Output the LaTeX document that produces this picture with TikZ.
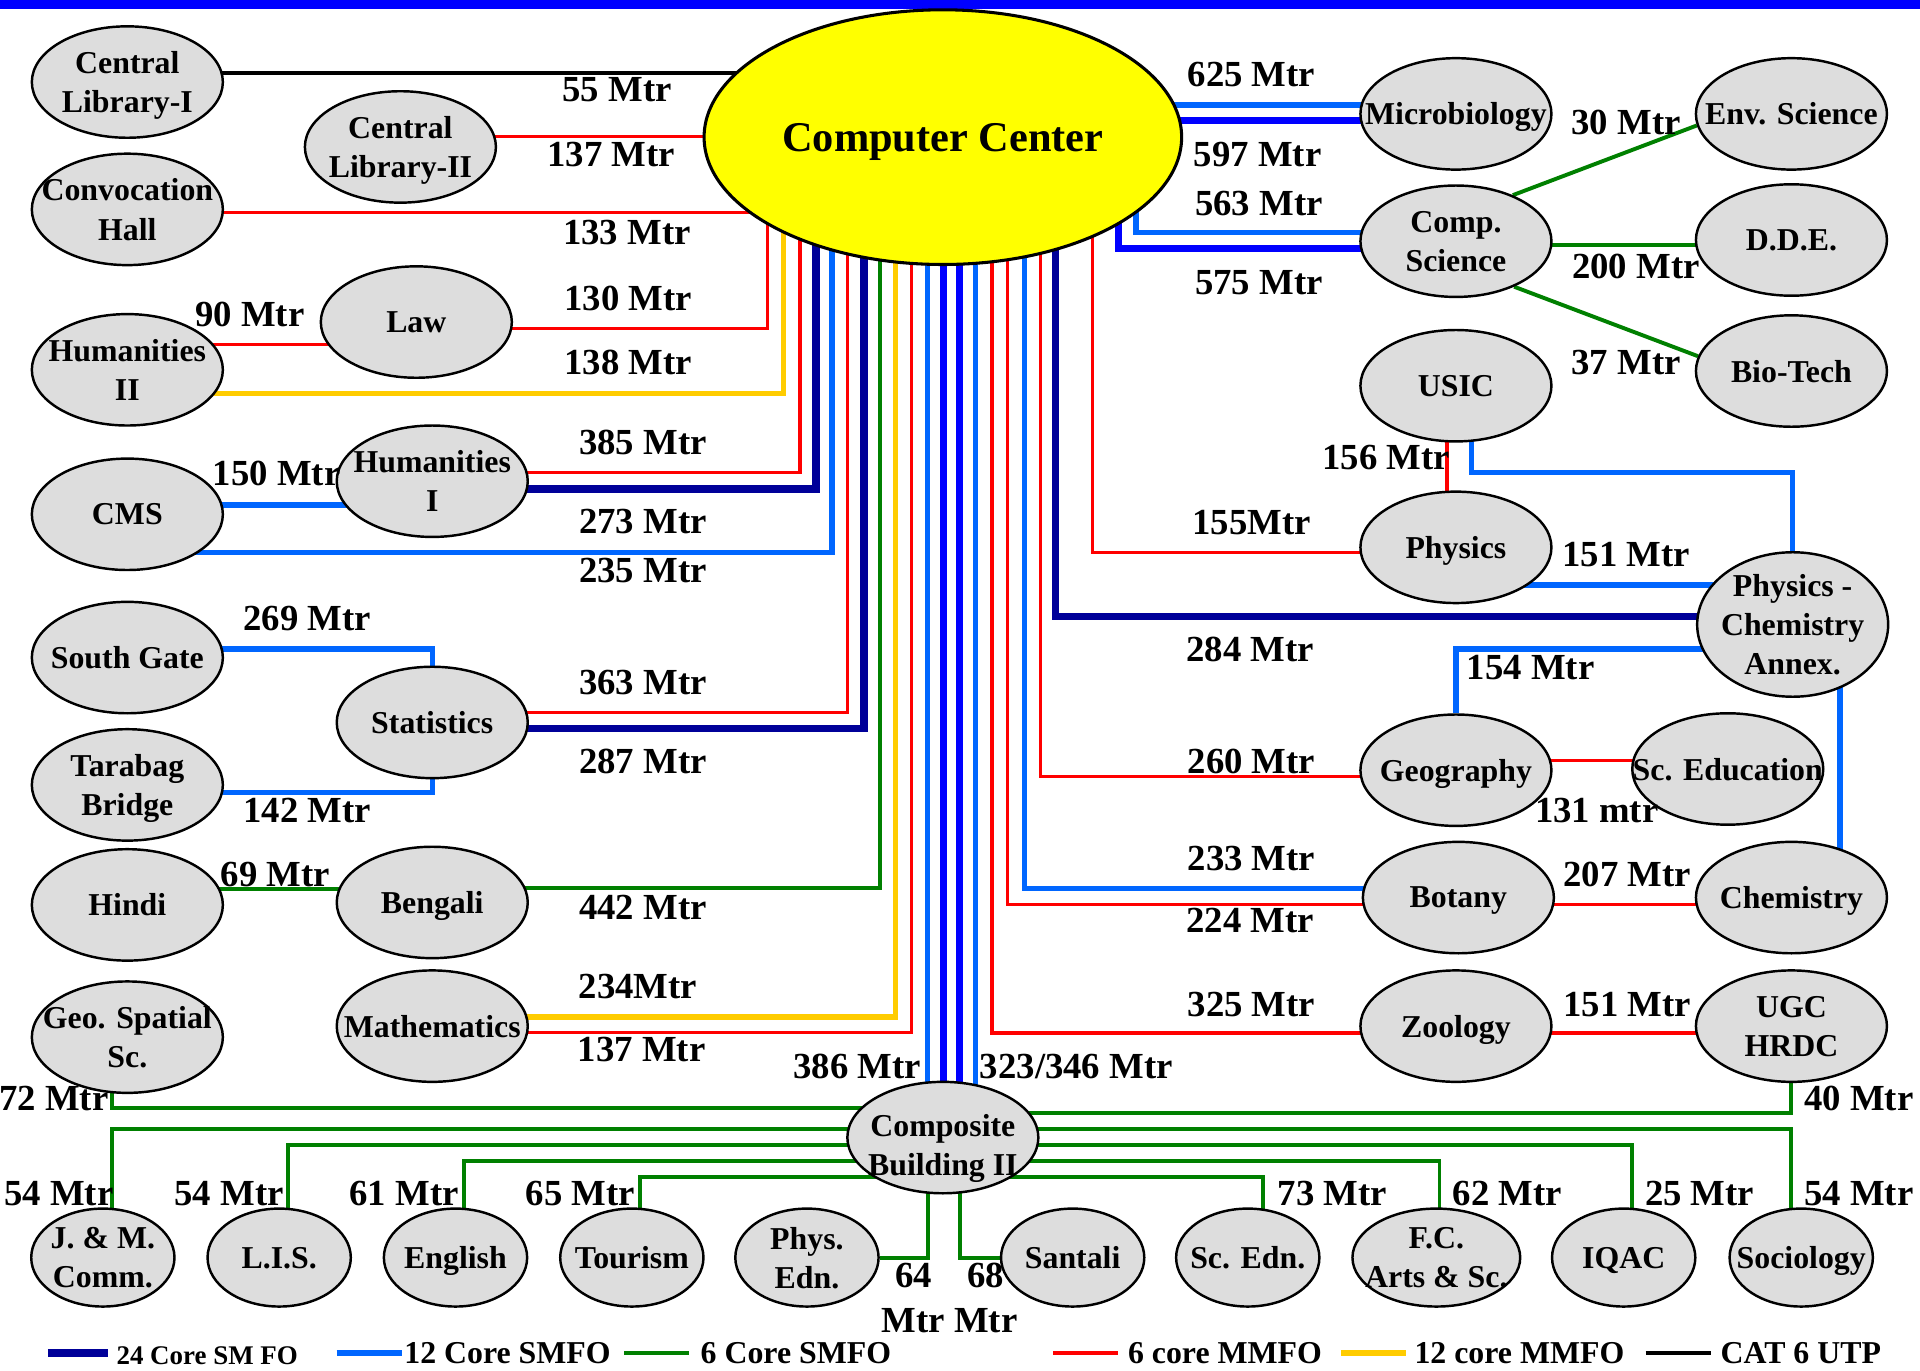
\documentclass[tikz,border=0pt]{standalone}
\usepackage{fontspec}
\setmainfont{Liberation Serif}
\usetikzlibrary{shapes.geometric}
\definecolor{navyfo}{HTML}{000099}
\definecolor{lightfo}{HTML}{0066FF}
\definecolor{bluefo}{HTML}{0000FF}
\definecolor{greenfo}{HTML}{008000}
\definecolor{redfo}{HTML}{FF0000}
\definecolor{amberfo}{HTML}{FFCC00}
\definecolor{sitegray}{HTML}{DDDDDD}
\definecolor{ccyellow}{HTML}{FFFF00}
\pgfdeclarelayer{bg}
\pgfsetlayers{bg,main}

\begin{document}
\begin{tikzpicture}[x=1pt, y=-1pt, every node/.style={font=\bfseries}]
    \tikzset{site/.style={ellipse,draw=black,line width=2pt,fill=sitegray,align=center,inner sep=-25pt,text depth=0pt,minimum width=156,minimum height=91,font=\bfseries\fontsize{26}{32}\selectfont}}
    \tikzset{smallsite/.style={site,minimum width=117,minimum height=80}}
    \tikzset{dist/.style={font=\bfseries\fontsize{30}{36}\selectfont,inner sep=0pt,align=center}}
    \tikzset{legtext/.style={font=\bfseries\fontsize{26}{30}\selectfont,inner sep=0pt,anchor=west}}
    \tikzset{smfo24/.style={draw=navyfo,line width=6pt},smfo12/.style={draw=lightfo,line width=4.4pt},smfoblue/.style={draw=bluefo,line width=5.6pt},smfo6/.style={draw=greenfo,line width=3.2pt},mmfo6/.style={draw=redfo,line width=2.8pt},mmfo12/.style={draw=amberfo,line width=4.4pt},utp/.style={draw=black,line width=3.5pt}}
    \useasboundingbox (0,0) rectangle (1568,1119);
    \fill[bluefo] (0,0) rectangle (1568,7.5);
    % hub
    \node[site,fill=ccyellow,line width=2.5pt,minimum width=390,minimum height=208,font=\bfseries\fontsize{34.6}{40}\selectfont] (cc) at (770,112) {Computer Center};
    \node[site,text height=62pt] (comp) at (770,929) {Composite\\Building II};
    % left columns
    \node[site] (cl1) at (104,67) {Central\\Library-I};
    \node[site] (conv) at (104,171) {Convocation\\Hall};
    \node[site] (hum2) at (104,302) {Humanities\\II};
    \node[site] (cms) at (104,420) {CMS};
    \node[site] (sgate) at (104,537) {South Gate};
    \node[site] (tarabag) at (104,641) {Tarabag\\Bridge};
    \node[site] (hindi) at (104,739) {Hindi};
    \node[site] (geosp) at (104,847) {Geo. Spatial\\Sc.};
    \node[site] (cl2) at (327,120) {Central\\Library-II};
    \node[site] (law) at (340,263) {Law};
    \node[site] (hum1) at (353,393) {Humanities\\I};
    \node[site] (stat) at (353,590) {Statistics};
    \node[site] (bengali) at (353,737) {Bengali};
    \node[site] (maths) at (353,838) {Mathematics};
    % right columns
    \node[site] (micro) at (1189,93) {Microbiology};
    \node[site] (compsci) at (1189,197) {Comp.\\Science};
    \node[site] (usic) at (1189,315) {USIC};
    \node[site] (physics) at (1189,447) {Physics};
    \node[site] (geog) at (1189,629) {Geography};
    \node[site] (botany) at (1191,733) {Botany};
    \node[site] (zoology) at (1189,838) {Zoology};
    \node[site] (envsci) at (1463,93) {Env. Science};
    \node[site] (dde) at (1463,196) {D.D.E.};
    \node[site] (biotech) at (1463,303) {Bio-Tech};
    \node[site,minimum height=118] (pca) at (1464,510) {Physics -\\Chemistry\\Annex.};
    \node[site] (scedu) at (1411,628) {Sc. Education};
    \node[site] (chem) at (1463,733) {Chemistry};
    \node[site] (ugc) at (1463,838) {UGC\\HRDC};
    % bottom row
    \node[smallsite] (jmc) at (84,1027) {J. \& M.\\Comm.};
    \node[smallsite] (lis) at (228,1027) {L.I.S.};
    \node[smallsite] (english) at (372,1027) {English};
    \node[smallsite] (tourism) at (516,1027) {Tourism};
    \node[smallsite] (physedn) at (659,1027) {Phys.\\Edn.};
    \node[smallsite] (santali) at (876,1027) {Santali};
    \node[smallsite] (scedn) at (1019,1027) {Sc. Edn.};
    \node[smallsite,minimum width=137] (fcas) at (1173,1027) {F.C.\\Arts \& Sc.};
    \node[smallsite] (iqac) at (1326,1027) {IQAC};
    \node[smallsite] (sociology) at (1471,1027) {Sociology};

    \begin{pgfonlayer}{bg}
    % left side to hub
    \draw[utp] (cl1 |- 0,59.4) -- (cc |- 0,59.4);
    \draw[mmfo6] (cl2 |- 0,111.6) -- (cc |- 0,111.6);
    \draw[mmfo6] (conv |- 0,173.7) -- (cc |- 0,173.7);
    \draw[mmfo6] (law |- 0,268.4) -| (627,0 |- cc);
    \draw[mmfo12] (hum2 |- 0,321.2) -| (640,0 |- cc);
    \draw[mmfo6] (hum2 |- 0,281.2) -- (law |- 0,281.2);
    \draw[mmfo6] (hum1 |- 0,386) -| (653.3,0 |- cc);
    \draw[smfo24] (hum1 |- 0,399.4) -| (666.4,0 |- cc);
    \draw[smfo12] (cms |- 0,412.4) -- (hum1 |- 0,412.4);
    \draw[smfo12] (cms |- 0,451.3) -| (679.5,0 |- cc);
    \draw[smfo12] (sgate |- 0,530) -| (stat);
    \draw[smfo12] (tarabag |- 0,647.3) -| (stat);
    \draw[mmfo6] (stat |- 0,582) -| (692.3,0 |- cc);
    \draw[smfo24] (stat |- 0,595) -| (705.6,0 |- cc);
    \draw[smfo6] (hindi |- 0,726.3) -- (bengali |- 0,726.3);
    \draw[smfo6] (bengali |- 0,725.5) -| (718.7,0 |- cc);
    \draw[mmfo12] (maths |- 0,830.5) -| (731.5,0 |- cc);
    \draw[mmfo6] (maths |- 0,843.4) -| (744.5,0 |- cc);
    % composite building to hub
    \draw[smfo12] (757.6,0 |- comp) -- (757.6,0 |- cc);
    \draw[smfoblue] (770.7,0 |- comp) -- (770.7,0 |- cc);
    \draw[smfoblue] (783.7,0 |- comp) -- (783.7,0 |- cc);
    \draw[smfo12] (796.8,0 |- comp) -- (796.8,0 |- cc);
    % right side
    \draw[smfo12] (cc |- 0,85.7) -- (micro |- 0,85.7);
    \draw[smfoblue] (cc |- 0,98.6) -- (micro |- 0,98.6);
    \draw[smfo12] (927.7,0 |- cc) |- (compsci |- 0,190);
    \draw[smfoblue] (913.3,0 |- cc) |- (compsci |- 0,202.8);
    \draw[smfo6] (compsci.39) -- (envsci.187);
    \draw[smfo6] (compsci |- 0,200) -- (dde |- 0,200);
    \draw[smfo6] (compsci.-38) -- (biotech.171);
    \draw[mmfo6] (1181.6,0 |- usic) -- (1181.6,0 |- physics);
    \draw[smfo12] (1201.5,0 |- usic) |- (pca |- 0,386) -- (pca);
    \draw[smfo12] (physics |- 0,477.7) -- (pca |- 0,477.7);
    \draw[mmfo6] (892.4,0 |- cc) |- (physics |- 0,451.3);
    \draw[smfo24] (862.2,0 |- cc) |- (pca |- 0,503.6);
    \draw[smfo12] (pca |- 0,530) -| (geog);
    \draw[smfo12] (1502.6,0 |- pca) -- (1502.6,0 |- chem);
    \draw[mmfo6] (849.5,0 |- cc) |- (geog |- 0,634.3);
    \draw[mmfo6] (geog |- 0,621.2) -- (scedu |- 0,621.2);
    \draw[smfo12] (836.5,0 |- cc) |- (botany |- 0,725.5);
    \draw[mmfo6] (823,0 |- cc) |- (botany |- 0,738.5);
    \draw[mmfo6] (botany |- 0,738.5) -- (chem |- 0,738.5);
    \draw[mmfo6] (810,0 |- cc) |- (zoology |- 0,843.6);
    \draw[mmfo6] (zoology |- 0,843.6) -- (ugc |- 0,843.6);
    % composite building branches
    \draw[smfo6] (comp |- 0,904.6) -| (91.5,0 |- geosp);
    \draw[smfo6] (comp |- 0,921.7) -| (91.5,0 |- jmc);
    \draw[smfo6] (comp |- 0,935) -| (235,0 |- lis);
    \draw[smfo6] (comp |- 0,948) -| (378.6,0 |- english);
    \draw[smfo6] (comp |- 0,961) -| (522.6,0 |- tourism);
    \draw[smfo6] (758,0 |- comp) |- (physedn);
    \draw[smfo6] (784,0 |- comp) |- (santali);
    \draw[smfo6] (comp |- 0,908.7) -| (ugc);
    \draw[smfo6] (comp |- 0,921.7) -| (1463,0 |- sociology);
    \draw[smfo6] (comp |- 0,935) -| (1333,0 |- iqac);
    \draw[smfo6] (comp |- 0,948) -| (1175.6,0 |- fcas);
    \draw[smfo6] (comp |- 0,961) -| (1031.6,0 |- scedn);
    \end{pgfonlayer}

    % distances
    \node[dist] (d1) at (504,73) {55 Mtr};
    \node[dist] (d2) at (499,126) {137 Mtr};
    \node[dist] (d3) at (512,190) {133 Mtr};
    \node[dist] (d4) at (513,244) {130 Mtr};
    \node[dist] (d5) at (513,296) {138 Mtr};
    \node[dist] (d6) at (204,257) {90 Mtr};
    \node[dist] (d7) at (525,361) {385 Mtr};
    \node[dist] (d8) at (226,387) {150 Mtr};
    \node[dist] (d9) at (525,426) {273 Mtr};
    \node[dist] (d10) at (525,466) {235 Mtr};
    \node[dist] (d11) at (251,505) {269 Mtr};
    \node[dist] (d12) at (525,557) {363 Mtr};
    \node[dist] (d13) at (525,622) {287 Mtr};
    \node[dist] (d14) at (251,662) {142 Mtr};
    \node[dist] (d15) at (225,714) {69 Mtr};
    \node[dist] (d16) at (525,741) {442 Mtr};
    \node[dist] (d17) at (521,806) {234Mtr};
    \node[dist] (d18) at (524,857) {137 Mtr};
    \node[dist] (d19) at (700,871) {386 Mtr};
    \node[dist] (d20) at (879,871) {323/346 Mtr};
    \node[dist] (d21) at (44,897) {72 Mtr};
    \node[dist] (d22) at (48,975) {54 Mtr};
    \node[dist] (d23) at (187,975) {54 Mtr};
    \node[dist] (d24) at (330,975) {61 Mtr};
    \node[dist] (d25) at (474,975) {65 Mtr};
    \node[dist] (d26) at (746,1060) {64\\Mtr};
    \node[dist] (d27) at (805,1060) {68\\Mtr};
    \node[dist] (d28) at (1088,975) {73 Mtr};
    \node[dist] (d29) at (1231,975) {62 Mtr};
    \node[dist] (d30) at (1388,975) {25 Mtr};
    \node[dist] (d31) at (1518,975) {54 Mtr};
    \node[dist] (d32) at (1518,897) {40 Mtr};
    \node[dist] (d33) at (1022,61) {625 Mtr};
    \node[dist] (d34) at (1027,126) {597 Mtr};
    \node[dist] (d35) at (1028,166) {563 Mtr};
    \node[dist] (d36) at (1028,231) {575 Mtr};
    \node[dist] (d37) at (1328,100) {30 Mtr};
    \node[dist] (d38) at (1336,218) {200 Mtr};
    \node[dist] (d39) at (1328,296) {37 Mtr};
    \node[dist] (d40) at (1132,374) {156 Mtr};
    \node[dist] (d41) at (1022,427) {155Mtr};
    \node[dist] (d42) at (1328,453) {151 Mtr};
    \node[dist] (d43) at (1021,530) {284 Mtr};
    \node[dist] (d44) at (1250,545) {154 Mtr};
    \node[dist] (d45) at (1022,622) {260 Mtr};
    \node[dist] (d46) at (1304,662) {131 mtr};
    \node[dist] (d47) at (1022,701) {233 Mtr};
    \node[dist] (d48) at (1329,714) {207 Mtr};
    \node[dist] (d49) at (1021,752) {224 Mtr};
    \node[dist] (d50) at (1022,820) {325 Mtr};
    \node[dist] (d51) at (1329,820) {151 Mtr};

    % legend
    \node[legtext,font=\bfseries\fontsize{22}{26}\selectfont,anchor=base west] (t1) at (95,1114) {24 Core SM FO};
    \node[legtext] (t2) at (330,1105) {12 Core SMFO};
    \node[legtext] (t3) at (572,1105) {6 Core SMFO};
    \node[legtext] (t4) at (921,1105) {6 core MMFO};
    \node[legtext] (t5) at (1155,1105) {12 core MMFO};
    \node[legtext] (t6) at (1405,1105) {CAT 6 UTP};
    \coordinate (k1) at (39,1105);
    \coordinate (k2) at (275,1105);
    \coordinate (k3) at (510,1105);
    \coordinate (k4) at (860,1105);
    \coordinate (k5) at (1095,1105);
    \coordinate (k6) at (1344,1105);
    \draw[smfo24] (k1) -- (k1 -| 88,0);
    \draw[smfo12] (k2) -- (k2 -| 328.6,0);
    \draw[smfo6] (k3) -- (k3 -| 562.6,0);
    \draw[mmfo6] (k4) -- (k4 -| 913,0);
    \draw[mmfo12] (k5) -- (k5 -| 1148,0);
    \draw[utp] (k6) -- (k6 -| 1397,0);
  \end{tikzpicture}
\end{document}
